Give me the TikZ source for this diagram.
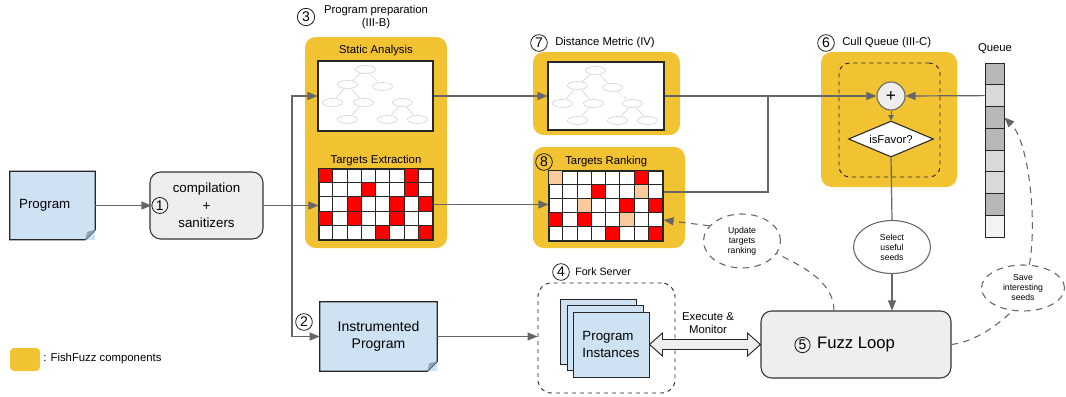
\documentclass[tikz,border=0pt]{standalone}
\usepackage{fontspec}
\setmainfont{Liberation Sans}
\usetikzlibrary{positioning,calc,shapes.geometric,arrows.meta}
\definecolor{ffyellow}{HTML}{F1C232}
\definecolor{noteblue}{HTML}{CFE2F3}
\definecolor{notefold}{HTML}{8FA3B8}
\definecolor{boxgray}{HTML}{EEEEEE}
\definecolor{linegray}{HTML}{666666}
\definecolor{treegray}{HTML}{D6D6D6}
\definecolor{hitred}{HTML}{FF0000}
\definecolor{rankpeach}{HTML}{F9CB9C}
\definecolor{qdark}{HTML}{B7B7B7}
\definecolor{qlight}{HTML}{D9D9D9}
\definecolor{qpale}{HTML}{F3F3F3}
\tikzset{%
  flow/.style = {-{Triangle[length=7.5pt,width=6pt]},draw=linegray,
        line width=0.9pt},
  link/.style = {draw=linegray,line width=0.9pt},
  hint/.style = {draw=linegray,dash pattern=on 5pt off 4pt,
        line width=0.8pt},
  comp/.style = {fill=ffyellow,rounded corners=8pt,inner sep=0pt},
  docbox/.style = {fill=noteblue,inner sep=0pt},
  panel/.style = {draw=black!85,fill=white,line width=0.8pt,inner sep=0pt},
  stage/.style = {draw=black!80,fill=boxgray,rounded corners=8pt,
        line width=0.8pt,align=center,inner sep=0pt},
  tnode/.style = {ellipse,draw=treegray,minimum width=15pt,
        minimum height=6pt,inner sep=0pt,line width=0.5pt},
  num/.style = {circle,draw=black!90,line width=0.6pt,minimum size=12.5pt,
        inner sep=0pt,font=\fontsize{10.5}{10.5}\selectfont},
  smalltxt/.style = {font=\fontsize{8.5}{10}\selectfont,inner sep=0pt},
  cell/.style = {draw=black!85,line width=0.6pt},
  qcell/.style = {draw=black!85,line width=0.6pt,minimum width=14.25pt,
        minimum height=16.3pt,inner sep=0pt},
  talk/.style = {ellipse,hint,fill=white,align=center,inner sep=0pt,
        font=\fontsize{6.5}{7.5}\selectfont}
}
% small call graph drawn inside a white panel
\newcommand{\drawtree}[2]{%
  \begin{scope}[shift={(#1.north west)}]
    \node[tnode] (#2r) at (48,9) {};
    \node[tnode] (#2a) at (30,24) {};
    \node[tnode] (#2b) at (65,26) {};
    \node[tnode] (#2aa) at (15,42) {};
    \node[tnode] (#2ab) at (46,42) {};
    \node[tnode] (#2c) at (85,42) {};
    \node[tnode] (#2aba) at (30,59) {};
    \node[tnode] (#2ca) at (70,59) {};
    \node[tnode] (#2cb) at (100,59) {};
    \draw[treegray,line width=0.5pt] (#2r) -- (#2a) (#2r) -- (#2b)
      (#2a) -- (#2aa) (#2a) -- (#2ab) (#2ab) -- (#2aba)
      (#2c) -- (#2ca) (#2c) -- (#2cb);
  \end{scope}}
\begin{document}
\begin{tikzpicture}[x=0.75pt,y=-0.75pt]
  \useasboundingbox (0,0) rectangle (1066,396);

  % yellow FishFuzz panels
  \node[comp,minimum width=106.5pt,minimum height=158.25pt] (prep) at (376,142.5) {};
  \node[comp,minimum width=110.25pt,minimum height=62.25pt] (distbox) at (606.5,93.5) {};
  \node[comp,minimum width=114pt,minimum height=75.75pt] (rankbox) at (609,197.5) {};
  \node[comp,minimum width=102pt,minimum height=101.25pt] (cullbox) at (889,119.5) {};
  \node[draw=black!85,dashed,rounded corners=8pt,line width=0.7pt,
        minimum width=75.75pt,minimum height=85.5pt] (cullin) at (889.5,120) {};

  % input program
  \node[docbox,minimum width=63.75pt,minimum height=51pt,text width=50pt,
        align=left,font=\fontsize{10}{12}\selectfont] (prog) at (52.5,205.5) {Program};
  \draw[draw=black!85,line width=0.8pt] (prog.north west) -- (prog.north east)
    -- ([yshift=7.5pt]prog.south east) -- ([xshift=-7.5pt]prog.south east)
    -- (prog.south west) -- cycle;
  \fill[notefold] ([xshift=-7.5pt]prog.south east) -- ([yshift=7.5pt]prog.south east)
    -- ([xshift=-6pt,yshift=6pt]prog.south east) -- cycle;

  \node[stage,minimum width=84.75pt,minimum height=50.25pt,
        font=\fontsize{10}{13}\selectfont] (comp) at (206.5,205.5)
        {compilation\\+\\sanitizers};
  \node[num,minimum size=12pt,anchor=west] (n1) at ([xshift=1.5pt]comp.west) {1};

  % program preparation
  \node[num,minimum size=13pt] (n3) at (306,17) {3};
  \node[smalltxt,align=center] (preplbl) at (376,17) {Program preparation\\(III-B)};
  \node[smalltxt] (statlbl) at (376,51) {Static Analysis};
  \node[panel,minimum width=86.25pt,minimum height=52.5pt] (stat) at (375.5,96) {};
  \drawtree{stat}{sa}
  \node[smalltxt] (tgtlbl) at (376,161) {Targets Extraction};
  \node[panel,minimum width=85.5pt,minimum height=53.25pt] (tgtx) at (376,204.5) {};
  \begin{scope}[shift={(tgtx.north west)}]
    \foreach \c/\r in {0/0,6/0,3/1,6/1,2/2,5/2,7/2,0/3,2/3,5/3,4/4,7/4}
      \fill[hitred] (\c*14.25,\r*14.2) rectangle ++(14.25,14.2);
    \foreach \c in {0,...,7}
      \foreach \r in {0,...,4}
        \draw[cell] (\c*14.25,\r*14.2) rectangle ++(14.25,14.2);
  \end{scope}

  % distance metric
  \node[num] (n7) at (539,43) {7};
  \node[smalltxt,anchor=west] (distlbl) at (555,43) {Distance Metric (IV)};
  \node[panel,minimum width=87pt,minimum height=51pt] (dist) at (606,96) {};
  \drawtree{dist}{dm}
  \draw[treegray,dashed,line width=0.5pt] (dmb) -- (dmc);

  % targets ranking
  \node[num] (n8) at (544,162) {8};
  \node[smalltxt,anchor=west] (ranklbl) at (565,162) {Targets Ranking};
  \node[panel,minimum width=85.5pt,minimum height=52.5pt] (rank) at (606,206) {};
  \begin{scope}[shift={(rank.north west)}]
    \foreach \c/\r in {6/0,3/1,5/2,7/2,0/3,2/3,4/4,7/4}
      \fill[hitred] (\c*14.25,\r*14) rectangle ++(14.25,14);
    \foreach \c/\r in {0/0,6/1,2/2,5/3}
      \fill[rankpeach] (\c*14.25,\r*14) rectangle ++(14.25,14);
    \foreach \c in {0,...,7}
      \foreach \r in {0,...,4}
        \draw[cell] (\c*14.25,\r*14) rectangle ++(14.25,14);
  \end{scope}

  % cull queue
  \node[num] (n6) at (826,43) {6};
  \node[smalltxt,anchor=west] (culllbl) at (842,43) {Cull Queue (III-C)};
  \node[circle,draw=linegray,fill=boxgray,line width=0.8pt,minimum size=21pt,
        inner sep=0pt,font=\fontsize{13}{13}\selectfont] (plus) at (891,96) {+};
  \node[diamond,draw=black!85,fill=white,line width=0.8pt,aspect=2.4,
        minimum width=63.75pt,minimum height=27pt,inner sep=0pt,
        font=\fontsize{8.5}{10}\selectfont] (fav) at (891,139) {isFavor?};

  % seed queue
  \node[smalltxt] (qlbl) at (995,49) {Queue};
  \foreach \i/\qc in {1/qdark,2/qlight,3/qdark,4/qdark,5/qlight,6/qlight,7/qdark,8/qpale}
    \node[qcell,fill=\qc] (q\i) at (994.5,52.125+\i*21.75) {};

  % instrumented program and fork server
  \node[num] (n2) at (304,322) {2};
  \node[docbox,minimum width=87.75pt,minimum height=51.75pt,align=center,
        font=\fontsize{10.5}{13}\selectfont] (instr) at (378.5,336.5)
        {Instrumented\\Program};
  \draw[draw=black!85,line width=0.8pt] (instr.north west) -- (instr.north east)
    -- ([yshift=7.5pt]instr.south east) -- ([xshift=-7.5pt]instr.south east)
    -- (instr.south west) -- cycle;
  \fill[notefold] ([xshift=-7.5pt]instr.south east) -- ([yshift=7.5pt]instr.south east)
    -- ([xshift=-6pt,yshift=6pt]instr.south east) -- cycle;

  \node[num] (n4) at (561,272) {4};
  \node[smalltxt,anchor=west,font=\fontsize{8}{10}\selectfont] (forklbl) at (575,272) {Fork Server};
  \node[draw=black!85,dashed,rounded corners=10pt,line width=0.7pt,
        minimum width=102.75pt,minimum height=82.5pt] (fork) at (606.5,338) {};
  \node[docbox,draw=black!85,line width=0.7pt,minimum width=57pt,
        minimum height=48.75pt] (inst3) at (598,331.5) {};
  \node[docbox,draw=black!85,line width=0.7pt,minimum width=57pt,
        minimum height=48.75pt] (inst2) at (605,338) {};
  \node[docbox,draw=black!85,line width=0.7pt,minimum width=57pt,
        minimum height=48.75pt,align=left,
        font=\fontsize{10}{13}\selectfont] (inst) at (611,344.5) {Program\\Instances};

  % fuzz loop
  \node[stage,minimum width=142.5pt,minimum height=50.25pt,
        font=\fontsize{12.5}{14}\selectfont] (fuzz) at (856,344.5) {Fuzz Loop};
  \node[num,minimum size=11.5pt] (n5) at (802.5,345) {5};
  \node[ellipse,draw=linegray,fill=white,line width=0.8pt,align=center,
        minimum width=57.75pt,minimum height=39.75pt,inner sep=0pt,
        font=\fontsize{6.5}{7.5}\selectfont] (sel) at (892,247) {Select\\useful\\seeds};
  \node[talk,minimum width=57.75pt,minimum height=40.5pt] (upd) at (742,241)
        {Update\\targets\\ranking};
  \node[talk,minimum width=62.25pt,minimum height=34.5pt] (save) at (1023,288)
        {Save\\interesting\\seeds};
  \node[smalltxt,align=center] (execlbl) at (708,323) {Execute \&\\Monitor};

  % legend
  \node[comp,rounded corners=3pt,minimum width=22.5pt,minimum height=17.25pt] (leg) at (25,359.5) {};
  \node[smalltxt,anchor=west] (leglbl) at (43,359) {: FishFuzz components};

  % connectors
  \coordinate (split) at (292,205.5);
  \coordinate (merge) at (768,96);
  \draw[flow] (prog.east) -- (n1.west);
  \draw[link] (comp.east) -- (split);
  \draw[flow] (split) |- (stat.west);
  \draw[flow] (split) -- (split -| tgtx.west);
  \draw[flow] (split) |- (instr.west);
  \draw[flow] (stat.east) -- (stat.east -| dist.west);
  \draw[flow] (dist.east) -- (plus.west);
  \draw[flow] (tgtx.east) -- (tgtx.east -| rank.west);
  \draw[link] ([yshift=10.5pt]rank.east) -| (merge);
  \draw[flow] (q2.west) -- (plus.east);
  \draw[-{Triangle[length=4pt,width=4pt]},draw=linegray,line width=0.7pt] (plus.south) -- (fav.north);
  \draw[link] (fav.south) -- (sel.north);
  \draw[flow] (sel.south) -- (sel.south |- fuzz.north);
  \draw[flow] (instr.east) -- (instr.east -| fork.west);
  \draw[draw=black!85,fill=boxgray,line width=0.7pt] (inst.east) -- ++(13,-11.5) -- ++(0,6.5)
    -- ($(fuzz.west)+(-13,-5)$) -- ++(0,-6.5) -- (fuzz.west) -- ++(-13,11.5)
    -- ++(0,-6.5) -- ($(inst.east)+(13,5)$) -- ++(0,6.5) -- cycle;
  \draw[hint] ([xshift=-16.5pt]fuzz.north) .. controls +(0,-30) and +(22,11) .. (upd.-20);
  \draw[hint,-{Triangle[length=7.5pt,width=6pt]}] (upd.155) -- ([yshift=-10.5pt]rank.east);
  \draw[hint] (fuzz.east) .. controls +(25,-3) and +(-12,12) .. (save.-115);
  \draw[hint,-{Triangle[length=7.5pt,width=6pt]}] (save.75) .. controls +(8,-40) and +(25,25) .. (q3.east);
\end{tikzpicture}
\end{document}
